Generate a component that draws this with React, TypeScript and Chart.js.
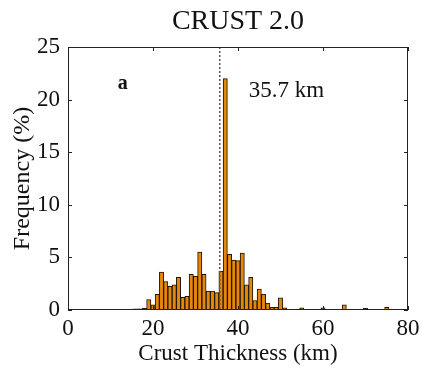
import React, { useEffect, useRef } from "react";
import { Chart, registerables } from "chart.js";

Chart.register(...registerables);

const binCenters: number[] = [
  13, 14, 15, 16, 17, 18, 19, 20, 21, 22, 23, 24, 25, 26, 27, 28, 29, 30, 31, 32,
  33, 34, 35, 36, 37, 38, 39, 40, 41, 42, 43, 44, 45, 46, 47, 48, 49, 50, 51, 52,
  53, 54, 55, 56, 57, 58, 59, 60, 61, 62, 63, 64, 65, 66, 67, 68, 69, 70, 71, 72,
  73, 74, 75,
];
const frequency: number[] = [
  0.05, 0.05, 0.08, 0.1, 0.1, 0.15, 1.0, 0.5, 1.5, 3.6, 2.7, 2.25, 2.4, 3.1, 1.2, 1.3, 3.4, 3.2, 5.5, 3.4,
  1.8, 1.8, 1.65, 3.7, 22.0, 5.3, 4.75, 4.7, 5.4, 2.4, 3.1, 0.9, 2.0, 1.5, 0.65, 0.25, 0.25, 1.15, 0.2, 0.05,
  0.05, 0.05, 0.2, 0.05, 0.05, 0.05, 0.05, 0.2, 0.05, 0.05, 0.05, 0.05, 0.5, 0.05, 0.05, 0.05, 0.05, 0.15, 0.05, 0.05,
  0, 0, 0.25,
];
const xTicks: number[] = [0, 20, 40, 60, 80];
const yTicks: number[] = [0, 5, 10, 15, 20, 25];
const meanThickness = 35.7;
const titleText = "CRUST 2.0";
const panelLabel = "a";
const meanLabel = "35.7 km";

const SERIF = "'Liberation Serif', 'Times New Roman', serif";

export default function App() {
  const ref = useRef<HTMLCanvasElement | null>(null);

  useEffect(() => {
    document.body.style.margin = "0";
    const canvas = ref.current;
    if (!canvas) return;

    const framePlugin = {
      id: "frame",
      afterDatasetsDraw(chart: any) {
        const { ctx, chartArea: a, scales } = chart;
        const xs = scales.x;
        const ys = scales.y;
        ctx.save();
        // dashed mean line
        const mx = xs.getPixelForValue(meanThickness);
        ctx.strokeStyle = "#555";
        ctx.lineWidth = 1.5;
        ctx.setLineDash([2, 2]);
        ctx.beginPath();
        ctx.moveTo(mx, a.top);
        ctx.lineTo(mx, a.bottom);
        ctx.stroke();
        ctx.setLineDash([]);
        // frame
        ctx.strokeStyle = "#222";
        ctx.lineWidth = 1;
        ctx.strokeRect(a.left + 0.5, a.top + 0.5, a.right - a.left - 1, a.bottom - a.top - 1);
        // inward ticks
        const tl = 4;
        ctx.beginPath();
        xTicks.forEach((v) => {
          const px = Math.round(xs.getPixelForValue(v)) + 0.5;
          ctx.moveTo(px, a.bottom);
          ctx.lineTo(px, a.bottom - tl);
          ctx.moveTo(px, a.top);
          ctx.lineTo(px, a.top + tl);
        });
        yTicks.forEach((v) => {
          const py = Math.round(ys.getPixelForValue(v)) + 0.5;
          ctx.moveTo(a.left, py);
          ctx.lineTo(a.left + tl, py);
          ctx.moveTo(a.right, py);
          ctx.lineTo(a.right - tl, py);
        });
        ctx.stroke();
        // title
        ctx.fillStyle = "#111";
        ctx.textBaseline = "middle";
        ctx.textAlign = "center";
        ctx.font = `28px ${SERIF}`;
        ctx.fillText(titleText, (a.left + a.right) / 2, 22);
        // text annotations
        ctx.textAlign = "left";
        ctx.font = `bold 20px ${SERIF}`;
        ctx.fillText(panelLabel, xs.getPixelForValue(11.7), ys.getPixelForValue(21.5));
        ctx.font = `23px ${SERIF}`;
        ctx.fillText(meanLabel, xs.getPixelForValue(42.5), ys.getPixelForValue(20.8));
        ctx.restore();
      },
    };

    const chart = new Chart(canvas, {
      type: "bar",
      data: {
        datasets: [
          {
            data: binCenters.map((x, i) => ({ x, y: frequency[i] })),
            backgroundColor: "#E4870A",
            borderColor: "#1e1200",
            borderWidth: 1,
            barPercentage: 1,
            categoryPercentage: 1,
          },
        ],
      },
      options: {
        responsive: false,
        animation: false,
        layout: { padding: { left: 0, right: 14, top: 47, bottom: 0 } },
        plugins: {
          legend: { display: false },
          tooltip: { enabled: false },
          title: { display: false },
        },
        scales: {
          x: {
            type: "linear",
            min: 0,
            max: 80,
            offset: false,
            grid: { display: false },
            border: { display: false },
            ticks: {
              stepSize: 20,
              color: "#111",
              padding: -3,
              maxRotation: 0,
              font: { family: SERIF, size: 23 },
            },
            title: {
              display: true,
              text: "Crust Thickness (km)",
              color: "#111",
              font: { family: SERIF, size: 23 },
              padding: { top: 0, bottom: 0 },
            },
            afterFit(scale: any) {
              scale.height = 58;
            },
          },
          y: {
            min: 0,
            max: 25,
            grid: { display: false },
            border: { display: false },
            ticks: {
              stepSize: 5,
              color: "#111",
              padding: 0,
              font: { family: SERIF, size: 23 },
            },
            title: {
              display: true,
              text: "Frequency (%)",
              color: "#111",
              font: { family: SERIF, size: 24 },
              padding: { top: 8, bottom: 0 },
            },
            afterFit(scale: any) {
              scale.width = 68;
            },
          },
        },
      },
      plugins: [framePlugin],
    });

    return () => chart.destroy();
  }, []);

  return (
    <div style={{ width: 422, height: 368 }}>
      <canvas ref={ref} width={422} height={368} style={{ width: 422, height: 368 }} />
    </div>
  );
}
